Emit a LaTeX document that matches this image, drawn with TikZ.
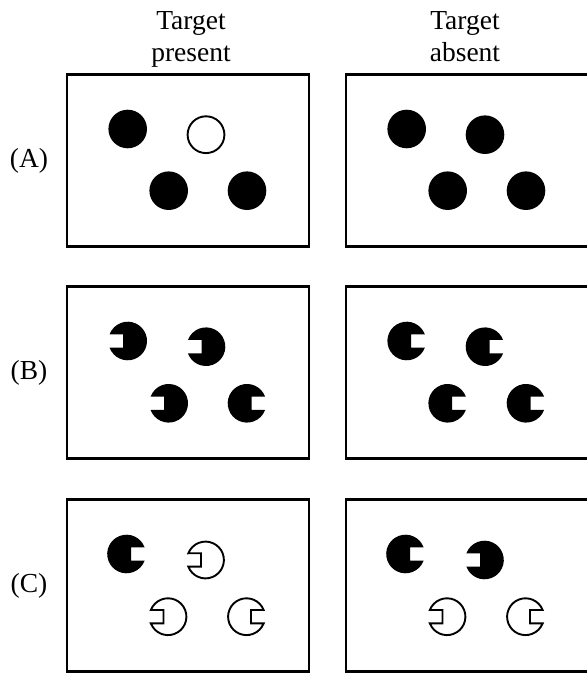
\documentclass[tikz,border=0pt]{standalone}
\usepackage{fontspec}
\setmainfont{Liberation Serif}
\begin{document}
\begin{tikzpicture}[x=1pt,y=1pt,
  panel/.style={draw=black, line width=2.5pt},
  lab/.style={font=\fontsize{27.5}{33}\selectfont, inner sep=0pt},
  solid shape/.style={fill=black},
  open shape/.style={draw=black, line width=1.9pt, fill=white},
  pics/disc/.style={code={\path[pic actions] (0,0) circle (#1);}},
  pics/pacR/.style={code={\path[pic actions] (4.5,6.7) -- ({asin(6.7/#1)}:#1)
      arc[start angle={asin(6.7/#1)}, end angle={360-asin(6.7/#1)}, radius=#1]
      -- (4.5,-6.7) -- cycle;}},
  pics/pacL/.style={code={\path[pic actions] (-4.5,-6.7) -- ({180+asin(6.7/#1)}:#1)
      arc[start angle={180+asin(6.7/#1)}, end angle={540-asin(6.7/#1)}, radius=#1]
      -- (-4.5,6.7) -- cycle;}}
]
\useasboundingbox (0,0) rectangle (587,673);
\clip (0,0) rectangle (587,673);

% headers
\node[lab, anchor=base] (h1a) at (191,643.5) {Target};
\node[lab, anchor=base] (h1b) at (191,611) {present};
\node[lab, anchor=base] (h2a) at (465,643.5) {Target};
\node[lab, anchor=base] (h2b) at (465,611) {absent};

% row labels
\node[lab] (la) at (29,512.5) {(A)};
\node[lab] (lb) at (29,300.5) {(B)};
\node[lab] (lc) at (29,87) {(C)};

% panels
\draw[panel] (67,598.5) rectangle (309,426.5);
\draw[panel] (346,598.5) rectangle (592,426.5);
\draw[panel] (67,386.5) rectangle (309,214.5);
\draw[panel] (346,386.5) rectangle (592,214.5);
\draw[panel] (67,173.5) rectangle (309,1.5);
\draw[panel] (346,173.5) rectangle (592,1.5);

% Row A, target present
\begin{scope}[shift={(67,598.5)}]
  \pic[solid shape] at (60.7,-54.5) {disc=19.3};
  \pic[open shape] at (139,-60.2) {disc=18.4};
  \pic[solid shape] at (101.7,-116.2) {disc=19.3};
  \pic[solid shape] at (180,-116.2) {disc=19.3};
\end{scope}
% Row A, target absent
\begin{scope}[shift={(346,598.5)}]
  \pic[solid shape] at (60.7,-54.5) {disc=19.3};
  \pic[solid shape] at (139,-60.2) {disc=19.3};
  \pic[solid shape] at (101.7,-116.2) {disc=19.3};
  \pic[solid shape] at (180,-116.2) {disc=19.3};
\end{scope}

% Row B, target present
\begin{scope}[shift={(67,386.5)}]
  \pic[solid shape] at (60.7,-54.5) {pacL=19.3};
  \pic[solid shape] at (139,-60.2) {pacL=19.3};
  \pic[solid shape] at (101.7,-116.8) {pacL=19.3};
  \pic[solid shape] at (180,-116.8) {pacR=19.3};
\end{scope}
% Row B, target absent
\begin{scope}[shift={(346,386.5)}]
  \pic[solid shape] at (60.7,-54.5) {pacR=19.3};
  \pic[solid shape] at (139,-60.2) {pacR=19.3};
  \pic[solid shape] at (101.7,-116.8) {pacR=19.3};
  \pic[solid shape] at (180,-116.8) {pacR=19.3};
\end{scope}

% Row C, target present
\begin{scope}[shift={(67,173.5)}]
  \pic[solid shape] at (59.5,-54.5) {pacR=19.3};
  \pic[open shape] at (138.5,-60.5) {pacL=18.4};
  \pic[open shape] at (101,-117.2) {pacL=18.4};
  \pic[open shape] at (179.5,-117.2) {pacR=18.4};
\end{scope}
% Row C, target absent
\begin{scope}[shift={(346,173.5)}]
  \pic[solid shape] at (59.5,-54.5) {pacR=19.3};
  \pic[solid shape] at (138.5,-60.5) {pacL=19.3};
  \pic[open shape] at (101,-117.2) {pacL=18.4};
  \pic[open shape] at (179.5,-117.2) {pacR=18.4};
\end{scope}
\end{tikzpicture}
\end{document}
